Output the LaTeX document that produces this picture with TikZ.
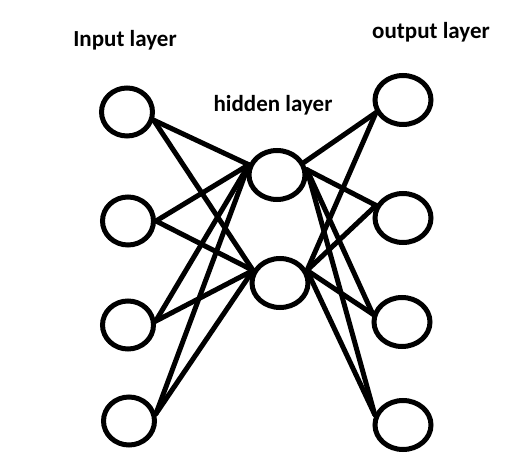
\documentclass[tikz,border=0pt]{standalone}
\usepackage{fontspec}
\setmainfont{Carlito}
\usetikzlibrary{shapes.geometric}
\begin{document}
\begin{tikzpicture}[x=1pt,y=-1pt,
  neuron/.style={ellipse,draw,line width=5pt,inner sep=0pt,minimum width=51pt,minimum height=48pt},
  hid/.style={neuron,minimum width=56pt,minimum height=49pt},
  edge/.style={line width=5pt,line cap=round},
  lbl/.style={font=\bfseries\fontsize{23}{25}\selectfont,inner sep=0pt}]
\useasboundingbox (0,0) rectangle (522,470);
\node[neuron] (i1) at (127,112) {};
\node[neuron] (i2) at (128,221) {};
\node[neuron] (i3) at (128,325) {};
\node[neuron] (i4) at (129,421) {};
\node[hid] (h1) at (277,175) {};
\node[hid] (h2) at (280,283) {};
\node[hid] (o1) at (403,100) {};
\node[hid] (o2) at (403,218) {};
\node[hid] (o3) at (402,322) {};
\node[hid] (o4) at (403,425) {};
\node[lbl] (t1) at (125,40) {Input layer};
\node[lbl] (t2) at (273,105) {hidden layer};
\node[lbl] (t3) at (431,32) {output layer};
\draw[edge] (i1.-17) -- (h1.160);
\draw[edge] (i1.-17) -- (h2.155);
\draw[edge] (i2.0) -- (h1.160);
\draw[edge] (i2.0) -- (h2.155);
\draw[edge] (i3.8) -- (h1.160);
\draw[edge] (i3.8) -- (h2.155);
\draw[edge] (i4.15) -- (h1.160);
\draw[edge] (i4.15) -- (h2.155);
\draw[edge] (h1.25) -- (o1.205);
\draw[edge] (h1.10) -- (o2.155);
\draw[edge] (h1.10) -- (o3.165);
\draw[edge] (h1.10) -- (o4.160);
\draw[edge] (h2.25) -- (o1.205);
\draw[edge] (h2.25) -- (o2.155);
\draw[edge] (h2.25) -- (o3.165);
\draw[edge] (h2.25) -- (o4.160);
\end{tikzpicture}
\end{document}
